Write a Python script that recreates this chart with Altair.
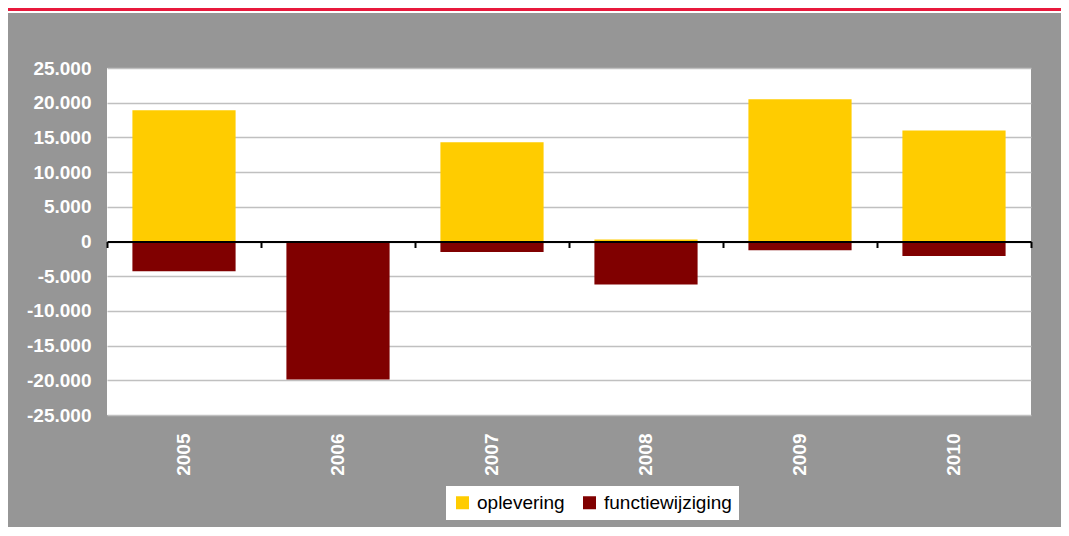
import altair as alt
import pandas as pd

# ---- data ----
years = ["2005", "2006", "2007", "2008", "2009", "2010"]
oplevering = [18900, 0, 14300, 300, 20500, 16000]
functiewijziging = [-4300, -19900, -1500, -6200, -1250, -2100]
series_names = ["oplevering", "functiewijziging"]
series_colors = ["#FFCC00", "#800000"]
y_ticks = [-25000, -20000, -15000, -10000, -5000, 0, 5000, 10000, 15000, 20000, 25000]
boundaries = [0, 1, 2, 3, 4, 5, 6]

rows = []
for i, yr in enumerate(years):
    rows.append({"jaar": yr, "reeks": series_names[0], "waarde": oplevering[i], "volg": 0})
    rows.append({"jaar": yr, "reeks": series_names[1], "waarde": functiewijziging[i], "volg": 1})
df = pd.DataFrame(rows)

W, H = 924, 347
PAD_R, PAD_B = 30, 112
FONT = "Liberation Sans"
label_expr = "(datum.value < 0 ? '-' : '') + replace(format(abs(datum.value), ','), ',', '.')"

y_scale = alt.Scale(domain=[-25000, 25000], nice=False)

bars = alt.Chart(df).mark_bar().encode(
    x=alt.X(
        "jaar:N", sort=years,
        scale=alt.Scale(paddingInner=0.33, paddingOuter=0.165),
        axis=alt.Axis(orient="bottom", title=None, labelAngle=-90, labelFont=FONT,
                      labelFontSize=19, labelFontWeight="bold", labelColor="white",
                      labelPadding=18, ticks=False, domain=False, grid=False),
    ),
    y=alt.Y(
        "waarde:Q", scale=y_scale, stack="zero",
        axis=alt.Axis(title=None, values=y_ticks, labelExpr=label_expr, labelFont=FONT,
                      labelFontSize=19, labelFontWeight="bold", labelColor="white",
                      labelPadding=16, ticks=False, domain=False, grid=True,
                      gridColor="#c0c0c0", gridWidth=1.5),
    ),
    color=alt.Color(
        "reeks:N",
        scale=alt.Scale(domain=series_names, range=series_colors),
        legend=alt.Legend(orient="none", legendX=339, legendY=418, direction="horizontal",
                          fillColor="white", padding=7, symbolType="square", symbolSize=169,
                          symbolStrokeWidth=0, symbolOpacity=1, labelFont=FONT,
                          labelFontSize=19, labelColor="black", labelOffset=5,
                          columnPadding=15, title=None),
    ),
    order=alt.Order("volg:Q"),
)

tick_df = pd.DataFrame({"grens": boundaries})
zero_axis = alt.Chart(tick_df).mark_point(opacity=0).encode(
    x=alt.X(
        "grens:Q",
        scale=alt.Scale(domain=[0, 6], nice=False, zero=False),
        axis=alt.Axis(orient="bottom", offset=-173.5, values=boundaries, labels=False,
                      title=None, grid=False, domain=True, domainColor="black",
                      domainWidth=2, ticks=True, tickColor="black", tickWidth=2,
                      tickSize=6, zindex=1),
    ),
)

strip_df = pd.DataFrame({"k": [0]})
red_strip = alt.Chart(strip_df).mark_rect(color="#E8193C").encode(
    x=alt.value(-99), x2=alt.value(W + PAD_R), y=alt.value(-60), y2=alt.value(-57)
)
white_strip = alt.Chart(strip_df).mark_rect(color="white").encode(
    x=alt.value(-99), x2=alt.value(W + PAD_R), y=alt.value(-57), y2=alt.value(-55)
)

chart = (
    alt.layer(red_strip, white_strip, bars, zero_axis)
    .resolve_scale(x="independent")
    .properties(
        width=W, height=H,
        autosize=alt.AutoSizeParams(type="none"),
        padding={"left": 99, "top": 60, "right": PAD_R, "bottom": PAD_B},
        background="#969696",
    )
    .configure_view(fill="white", strokeWidth=0)
)

chart.save("out.html", embed_options={"renderer": "svg", "actions": False})
